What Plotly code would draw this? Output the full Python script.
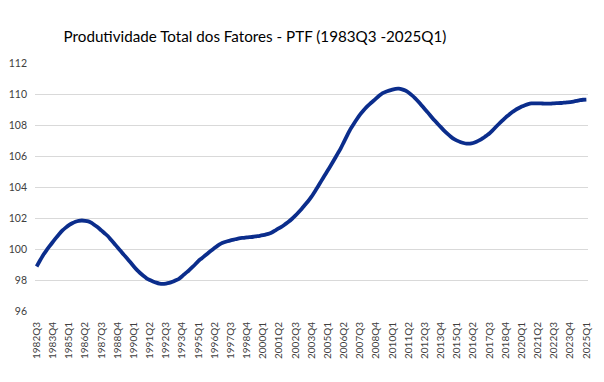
import plotly.graph_objects as go

# Quarterly categories 1982Q3 .. 2025Q1
quarters = []
y, q = 1982, 3
while (y, q) <= (2025, 1):
    quarters.append(f"{y}Q{q}")
    q += 1
    if q > 4:
        q = 1
        y += 1

ptf = [
    98.87, 99.24, 99.60, 99.90, 100.18, 100.45, 100.72, 100.97, 101.20, 101.38,
    101.54, 101.66, 101.76, 101.82, 101.84, 101.82, 101.78, 101.68, 101.53, 101.38,
    101.20, 101.02, 100.84, 100.60, 100.36, 100.11, 99.87, 99.62, 99.38, 99.14,
    98.89, 98.65, 98.45, 98.27, 98.11, 98.00, 97.91, 97.83, 97.77, 97.75,
    97.77, 97.81, 97.88, 97.98, 98.08, 98.24, 98.43, 98.60, 98.80, 99.00,
    99.22, 99.39, 99.56, 99.73, 99.90, 100.06, 100.22, 100.35, 100.43, 100.50,
    100.56, 100.61, 100.66, 100.70, 100.72, 100.75, 100.77, 100.79, 100.82, 100.85,
    100.89, 100.94, 101.00, 101.10, 101.22, 101.34, 101.47, 101.62, 101.77, 101.95,
    102.15, 102.37, 102.60, 102.85, 103.10, 103.38, 103.70, 104.03, 104.38, 104.72,
    105.06, 105.40, 105.76, 106.12, 106.48, 106.90, 107.32, 107.72, 108.05, 108.37,
    108.67, 108.92, 109.15, 109.35, 109.53, 109.72, 109.90, 110.06, 110.15, 110.22,
    110.28, 110.33, 110.34, 110.30, 110.22, 110.10, 109.93, 109.74, 109.52, 109.28,
    109.04, 108.80, 108.55, 108.30, 108.08, 107.86, 107.64, 107.44, 107.26, 107.10,
    106.99, 106.90, 106.84, 106.80, 106.80, 106.84, 106.92, 107.02, 107.15, 107.30,
    107.45, 107.65, 107.87, 108.08, 108.28, 108.48, 108.65, 108.82, 108.96, 109.08,
    109.19, 109.28, 109.35, 109.39, 109.40, 109.40, 109.39, 109.38, 109.38, 109.38,
    109.40, 109.41, 109.42, 109.44, 109.46, 109.48, 109.51, 109.55, 109.60, 109.63,
    109.64,
]

tick_labels = [
    "1982Q3", "1983Q4", "1985Q1", "1986Q2", "1987Q3", "1988Q4", "1990Q1",
    "1991Q2", "1992Q3", "1993Q4", "1995Q1", "1996Q2", "1997Q3", "1998Q4",
    "2000Q1", "2001Q2", "2002Q3", "2003Q4", "2005Q1", "2006Q2", "2007Q3",
    "2008Q4", "2010Q1", "2011Q2", "2012Q3", "2013Q4", "2015Q1", "2016Q2",
    "2017Q3", "2018Q4", "2020Q1", "2021Q2", "2022Q3", "2023Q4", "2025Q1",
]
y_ticks = [96, 98, 100, 102, 104, 106, 108, 110, 112]

x_idx = list(range(len(quarters)))
tick_pos = [quarters.index(t) for t in tick_labels]

fig = go.Figure()
fig.add_trace(go.Scatter(
    x=x_idx, y=ptf, mode="lines",
    line=dict(color="#0b2d8c", width=3.8, shape="spline", smoothing=0.6),
    hovertext=quarters, showlegend=False,
))

# page body has an 8px margin, so the figure is 588x366 placed at (8, 8)
fig.update_layout(
    width=588, height=366,
    margin=dict(l=27, r=8, t=55, b=63, autoexpand=False),
    paper_bgcolor="white", plot_bgcolor="white",
    font=dict(family="Lato, Carlito, Open Sans, sans-serif", color="#595959"),
    title=dict(
        text="Produtividade Total dos Fatores - PTF (1983Q3 -2025Q1)",
        x=0.42, xanchor="center", y=0.921, yanchor="middle",
        font=dict(size=15.2, color="#000000", family="Lato, Carlito, sans-serif"),
    ),
    xaxis=dict(
        range=[-0.5, len(quarters) - 0.5],
        tickmode="array", tickvals=tick_pos, ticktext=tick_labels,
        tickangle=-90, tickfont=dict(size=10, color="#404040"),
        showgrid=False, zeroline=False, showline=False, ticks="",
        ticklabelstandoff=8, automargin=False,
    ),
    yaxis=dict(
        range=[96, 112], tickmode="array", tickvals=y_ticks,
        tickfont=dict(size=10.5, color="#404040"),
        showgrid=True, gridcolor="#d9d9d9", gridwidth=1,
        zeroline=False, showline=False, ticks="",
        ticklabelstandoff=7, automargin=False,
    ),
)

fig.write_html("out.html")
